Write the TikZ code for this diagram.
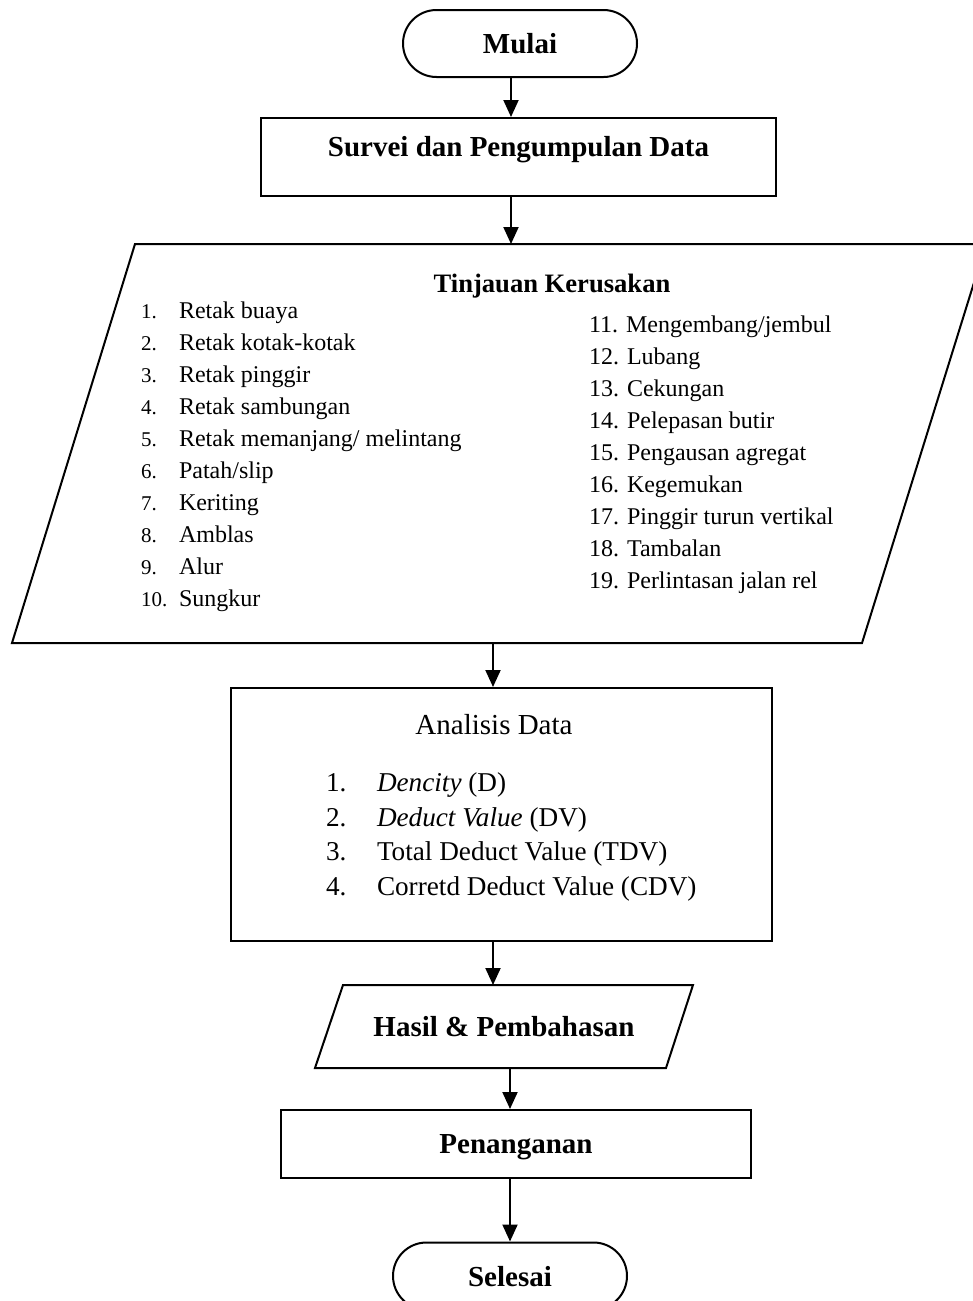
\documentclass[tikz,border=0pt]{standalone}
\usepackage{fontspec}
\setmainfont{Liberation Serif}
\usetikzlibrary{arrows.meta}

\begin{document}
\begin{tikzpicture}[x=0.5pt,y=-0.5pt,line width=1pt,
 term/.style={draw,rounded corners=16.75pt,minimum width=117pt,minimum height=33.5pt,font=\bfseries\fontsize{14.5}{17}\selectfont},
 proc/.style={draw,inner sep=2pt,font=\bfseries\fontsize{14.5}{17}\selectfont},
 head/.style={anchor=base,inner sep=0pt,font=\bfseries\fontsize{14.5}{17}\selectfont},
 num/.style={anchor=base west,inner sep=0pt,font=\fontsize{10.5}{12}\selectfont},
 itm/.style={anchor=base west,inner sep=0pt,font=\fontsize{12}{14}\selectfont},
 anaitm/.style={anchor=base west,inner sep=0pt,font=\fontsize{13.6}{15}\selectfont},
 arr/.style={-{Triangle[length=8.5pt,width=7.5pt]}}]
\useasboundingbox (0,0) rectangle (973,1301);
% start and survey
\node[term,text height=10pt,text depth=0pt] (mulai) at (520,43.5) {Mulai};
\node[proc,minimum width=257.5pt,minimum height=39pt,text height=10pt,text depth=11pt] (survei) at (518.5,157) {Survei dan Pengumpulan Data};
% damage review (parallelogram)
\coordinate (tinNW) at (135,244);
\coordinate (tinNE) at (986,244);
\coordinate (tinSE) at (862,643);
\coordinate (tinSW) at (12,643);
\draw (tinNW) -- (tinNE) -- (tinSE) -- (tinSW) -- cycle;
\node[head,font=\bfseries\fontsize{13.3}{16}\selectfont] (tin) at (552,292) {Tinjauan Kerusakan};
\foreach \n/\t [count=\k from 0] in {1./{Retak buaya},2./{Retak kotak-kotak},3./{Retak pinggir},4./{Retak sambungan},5./{Retak memanjang/ melintang},6./{Patah/slip},7./{Keriting},8./{Amblas},9./{Alur},10./{Sungkur}}
 {\node[num] (ln\k) at (140,{318+32*\k}) {\n};
  \node[itm] (lt\k) at (178,{318+32*\k}) {\t};}
\foreach \t [count=\k from 11] in {Mengembang/jembul,Lubang,Cekungan,Pelepasan butir,Pengausan agregat,Kegemukan,Pinggir turun vertikal,Tambalan,Perlintasan jalan rel}
 {\node[itm] (rt\k) at (588,{332+32*(\k-11)}) {\k. \t};}
% analysis
\node[draw,minimum width=270.5pt,minimum height=126.5pt] (ana) at (501.5,814.5) {};
\node[anchor=base,inner sep=0pt,font=\fontsize{14.5}{17}\selectfont] (anatitle) at (494,734) {Analisis Data};
\foreach \t [count=\k from 1] in {{\textit{Dencity} (D)},{\textit{Deduct Value} (DV)},{Total Deduct Value (TDV)},{Corretd Deduct Value (CDV)}}
 {\node[anaitm] (an\k) at (325,{791.5+34.7*(\k-1)}) {\k.};
  \node[anaitm] (at\k) at (376,{791.5+34.7*(\k-1)}) {\t};}
% results (parallelogram)
\coordinate (hasNW) at (343,985);
\coordinate (hasNE) at (693,985);
\coordinate (hasSE) at (666,1068);
\coordinate (hasSW) at (315,1068);
\draw (hasNW) -- (hasNE) -- (hasSE) -- (hasSW) -- cycle;
\node[head,anchor=center,text height=10pt,text depth=0pt] (hasil) at (504,1026.5) {Hasil \& Pembahasan};
% handling and end
\node[proc,minimum width=235pt,minimum height=34pt,text height=10pt,text depth=1pt] (pen) at (516,1144) {Penanganan};
\node[term,text height=10pt,text depth=0pt] (selesai) at (510,1276) {Selesai};
% connectors
\draw[arr] ([xshift=-4.5pt]mulai.south) -- ([xshift=-4.5pt]mulai.south |- survei.north);
\draw[arr] ([xshift=-3.75pt]survei.south) -- ([xshift=-3.75pt]survei.south |- tinNW);
\draw[arr] ([xshift=-4.25pt]ana.north |- tinSW) -- ([xshift=-4.25pt]ana.north);
\draw[arr] ([xshift=-4.25pt]ana.south) -- ([xshift=-4.25pt]ana.south |- hasNW);
\draw[arr] ([xshift=-3pt]pen.north |- hasSW) -- ([xshift=-3pt]pen.north);
\draw[arr] ([xshift=-3pt]pen.south) -- (selesai.north);
\end{tikzpicture}
\end{document}
